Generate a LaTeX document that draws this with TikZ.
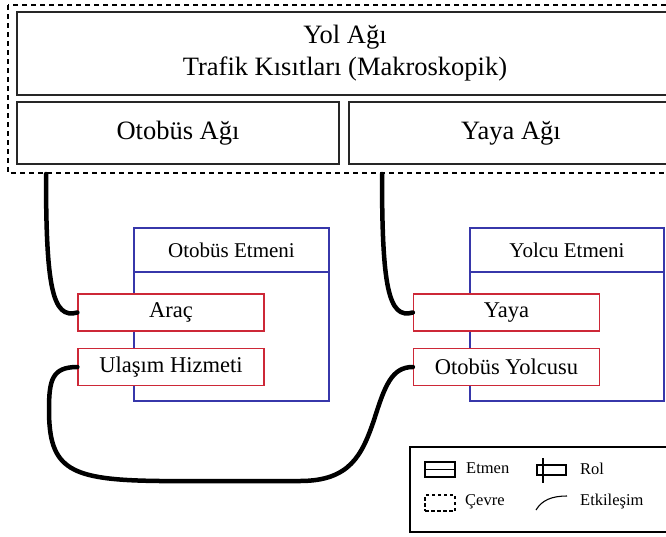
\documentclass[tikz,border=0pt]{standalone}
\usepackage{fontspec}
\setmainfont{Liberation Serif}
\begin{document}
\begin{tikzpicture}[x=1pt,y=-1pt,
  netbox/.style={draw=black!85,line width=1.6pt,rectangle,inner sep=0pt,align=center,font=\fontsize{26.5}{32}\selectfont},
  agentbox/.style={draw=agentblue,line width=1.3pt,rectangle,inner sep=0pt},
  agenttitle/.style={font=\fontsize{21}{24}\selectfont},
  rolebox/.style={draw=rolered,line width=1.3pt,fill=white,rectangle,inner sep=0pt,minimum width=186pt,minimum height=37pt,font=\fontsize{22.5}{26}\selectfont},
  link/.style={line width=4.5pt,black,line cap=round},
  envbox/.style={draw,dashed,dash pattern=on 5pt off 4pt,line width=1.4pt},
  legtext/.style={anchor=west,font=\fontsize{16.5}{18}\selectfont,inner sep=0pt}]
\definecolor{agentblue}{RGB}{55,55,170}
\definecolor{rolered}{RGB}{205,40,55}
\useasboundingbox (0,0) rectangle (666,536);
\clip (0,0) rectangle (666,536);

% environment frame
\draw[envbox] (8,5) rectangle (682,173);

% networks
\node[netbox,minimum width=656pt,minimum height=83pt] (road) at (345,53.5) {Yol Ağı\\Trafik Kısıtları (Makroskopik)};
\node[netbox,minimum width=322pt,minimum height=62pt] (busnet) at (178,133) {Otobüs Ağı};
\node[netbox,minimum width=324pt,minimum height=62pt] (walknet) at (511,133) {Yaya Ağı};

% agents
\node[agentbox,minimum width=195pt,minimum height=173pt] (busag) at (231.5,314.5) {};
\draw[agentblue,line width=1.3pt] (busag.west |- 0,272) -- (busag.east |- 0,272);
\node[agenttitle] (busagt) at (231.5,250) {Otobüs Etmeni};

\node[agentbox,minimum width=194pt,minimum height=173pt] (passag) at (567,314.5) {};
\draw[agentblue,line width=1.3pt] (passag.west |- 0,272) -- (passag.east |- 0,272);
\node[agenttitle] (passagt) at (567,250) {Yolcu Etmeni};

% roles
\node[rolebox] (vehicle) at (171,312.5) {Araç};
\node[rolebox] (service) at (171,367) {Ulaşım Hizmeti};
\node[rolebox] (walker) at (506.5,312.5) {Yaya};
\node[rolebox] (rider) at (506.5,367) {Otobüs Yolcusu};

% interactions
\coordinate (busport) at (46,174);
\coordinate (walkport) at (382,174);
\draw[link] (busport) .. controls (46,285) and (52,320) .. (vehicle.west);
\draw[link] (walkport) .. controls (382,285) and (388,320) .. (walker.west);
\draw[link] (service.west) .. controls (52,367) and (49,380) .. (49,410)
  .. controls (49,470) and (70,480) .. (160,481) -- (300,481)
  .. controls (350,481) and (362,455) .. (374,420)
  .. controls (385,385) and (392,367) .. (rider.west);

% legend
\draw[line width=1.3pt] (410,447) rectangle (690,532);
\node[draw,line width=1.2pt,minimum width=30pt,minimum height=15pt,inner sep=0pt] (legag) at (440,469.5) {};
\draw[line width=1.2pt] (legag.west) -- (legag.east);
\node[legtext] (legagt) at (466,468) {Etmen};
\node[draw,line width=1.2pt,minimum width=29pt,minimum height=10pt,inner sep=0pt] (legrole) at (551.5,470) {};
\draw[line width=1.2pt] (543,458) -- (543,483);
\node[legtext] (legrolet) at (580,469) {Rol};
\node[draw,dashed,dash pattern=on 3.5pt off 2.5pt,line width=1.2pt,minimum width=30pt,minimum height=16pt,inner sep=0pt] (legenv) at (440,503) {};
\node[legtext] (legenvt) at (465,502) {Çevre};
\coordinate (legia) at (536,510);
\coordinate (legib) at (567,496);
\draw[line width=1.1pt] (legia) .. controls (542,500) and (552,496) .. (legib);
\node[legtext] (legiat) at (580,502) {Etkileşim};
\end{tikzpicture}
\end{document}
